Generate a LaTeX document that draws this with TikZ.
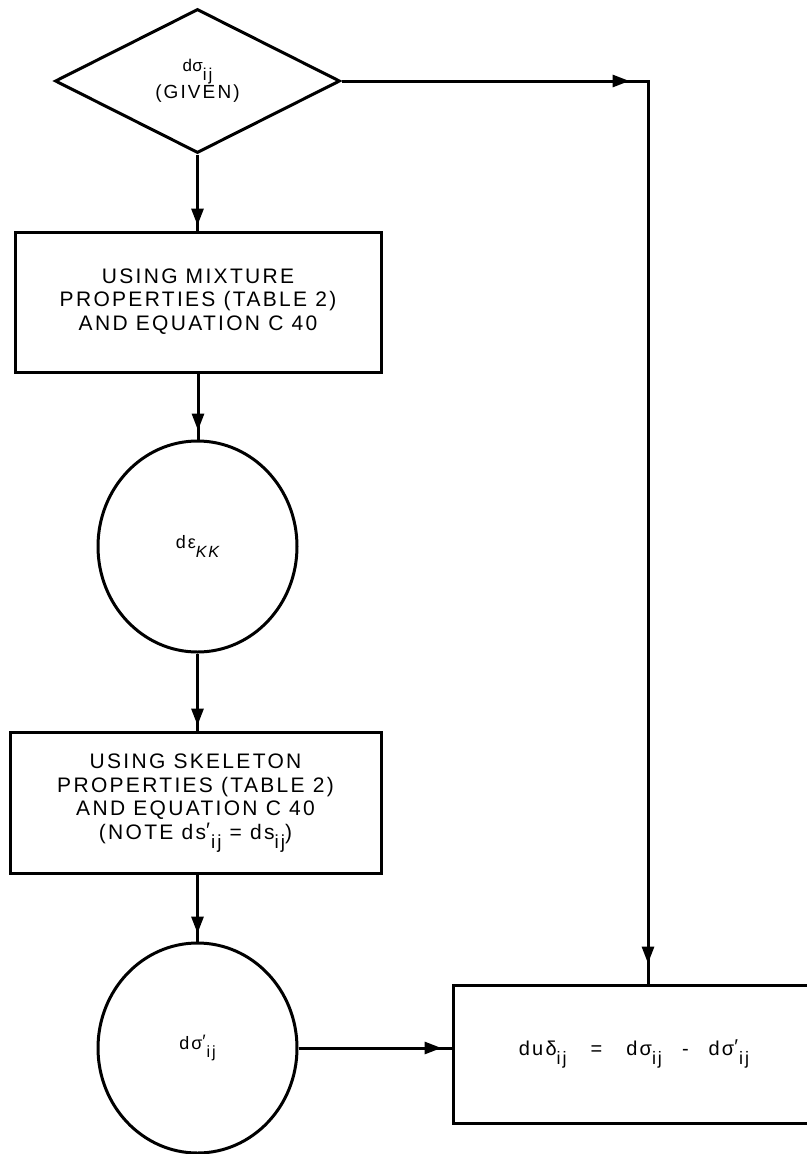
\documentclass[tikz,border=0pt]{standalone}
\usepackage{fontspec}
\setmainfont{Liberation Sans}
\newfontfamily\lblfont[LetterSpace=11]{Liberation Sans}
\usetikzlibrary{shapes.geometric,arrows.meta,decorations.markings}
\newcommand\lsub[1]{\raisebox{-0.45em}{\scalebox{0.9}{#1}}}
\newcommand\ps[1]{\raisebox{0.1em}{′}\kern0.05em\lsub{#1}}
\newcommand\stk[1]{\begin{tabular}{@{}c@{}}#1\end{tabular}}
\begin{document}
\begin{tikzpicture}[x=1pt,y=-1pt,line width=3pt,
  every node/.style={inner sep=0pt,align=center},
  box/.style={draw,rectangle,font=\lblfont\fontsize{21}{23.5}\selectfont},
  oval/.style={draw,ellipse,minimum width=199pt,minimum height=211pt,font=\lblfont\fontsize{18}{20}\selectfont},
  arrowat/.style={postaction={decorate},decoration={markings,
      mark=at position #1 with {\arrow{Triangle[length=17pt,width=12pt]}}}},
  twoarrows/.style 2 args={postaction={decorate},decoration={markings,
      mark=at position #1 with {\arrow{Triangle[length=17pt,width=12pt]}},
      mark=at position #2 with {\arrow{Triangle[length=17pt,width=12pt]}}}}]
\useasboundingbox (0,0) rectangle (806,1154);
\fill[white] (0,0) rectangle (806,1154);

\node[draw,diamond,aspect=2,minimum width=285pt,minimum height=144pt,
      font=\lblfont\fontsize{19}{23}\selectfont] (dia) at (197.5,81)
      {\raisebox{0.2em}{{\fontsize{17}{18}\selectfont d\kern0.5ptσ}\lsub{ij}}\\(GIVEN)};

\node[box,minimum width=366pt,minimum height=140pt] (box1) at (198,302)
  {\raisebox{1pt}{\stk{USING MIXTURE\\PROPERTIES (TABLE 2)\\AND EQUATION C 40}}};

\node[oval] (circ1) at (197.5,546.5) {dε\lsub{\itshape KK}};

\node[box,minimum width=371pt,minimum height=141pt] (box2) at (195.5,802.5)
  {\raisebox{-6pt}{\stk{USING SKELETON\\PROPERTIES (TABLE 2)\\AND EQUATION C 40\\(NOTE ds\ps{ij} = ds\lsub{ij})}}};

\node[oval,minimum height=210pt] (circ2) at (197.5,1048) {dσ\ps{ij}};

\node[box,minimum width=362pt,minimum height=138pt,font=\lblfont\fontsize{20}{22}\selectfont]
  (box3) at (634,1054) {\raisebox{-6pt}{duδ\lsub{ij}\hspace{1.2em}=\hspace{1.2em}dσ\lsub{ij}\hspace{1em}-\hspace{1em}dσ\ps{ij}}};

\coordinate (c1) at (648,81);

\draw[arrowat=-5pt] (dia.south) -- (dia.south |- box1.north);
\draw[arrowat=-9pt] (box1.south) -- (box1.south |- circ1.north);
\draw[arrowat=-5pt] (circ1.south) -- (circ1.south |- box2.north);
\draw[arrowat=-8pt] (box2.south -| circ2.north) -- (circ2.north);
\draw[arrowat=-10pt] (circ2.east) -- (circ2.east -| box3.west);
\draw[twoarrows={288pt}{-20pt},line join=miter] (dia.east) -- (c1) -- (c1 |- box3.north);
\end{tikzpicture}
\end{document}
